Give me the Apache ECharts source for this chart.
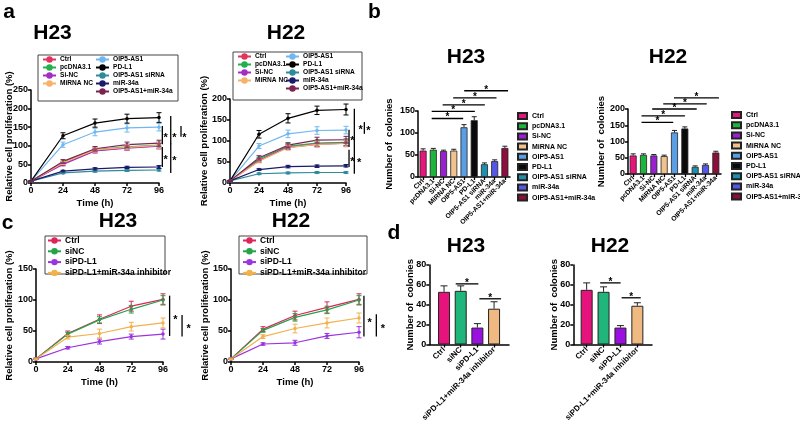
<!DOCTYPE html>
<html><head><meta charset="utf-8">
<script src="https://cdn.jsdelivr.net/npm/echarts@6/dist/echarts.min.js"></script>
<style>html,body{margin:0;padding:0;background:#fff}#c{width:800px;height:424px}</style>
</head><body><div id="c"></div>
<script>
const FONT = '"Liberation Sans", Arial, Helvetica, sans-serif';
// ---------- DATA ----------
const timeH = [0, 24, 48, 72, 96];
const groupsA = ['Ctrl','pcDNA3.1','Si-NC','MiRNA NC','OIP5-AS1','PD-L1','OIP5-AS1 siRNA','miR-34a','OIP5-AS1+miR-34a'];
const lineColorsA = ['#e3345f','#22b14c','#a12fc4','#f6b26b','#71b7ef','#000000','#2e8b9a','#1b1b6b','#7b2452'];
// panel a, H23
const aH23_Ctrl   = [5, 52, 87, 95, 100];
const aH23_pcDNA  = [5, 55, 90, 97, 102];
const aH23_SiNC   = [5, 50, 86, 94, 99];
const aH23_MiRNC  = [5, 54, 89, 96, 101];
const aH23_OIP5   = [5, 103, 137, 148, 150];
const aH23_PDL1   = [5, 127, 161, 173, 176];
const aH23_siRNA  = [5, 27, 32, 34, 35];
const aH23_miR34a = [5, 32, 38, 42, 43];
const aH23_OIPmiR = [5, 58, 92, 103, 107];
const aH23_err = [[1,4,6,7,8],[1,4,6,7,8],[1,4,5,6,7],[1,4,6,7,8],[1,7,10,11,10],[1,8,11,12,13],[1,2,3,3,3],[1,2,3,3,4],[1,5,6,7,8]];
// panel a, H22
const aH22_Ctrl   = [5, 54, 86, 94, 96];
const aH22_pcDNA  = [5, 57, 88, 95, 97];
const aH22_SiNC   = [5, 53, 85, 92, 95];
const aH22_MiRNC  = [5, 52, 84, 92, 94];
const aH22_OIP5   = [5, 88, 117, 125, 126];
const aH22_PDL1   = [5, 116, 154, 173, 175];
const aH22_siRNA  = [5, 22, 24, 25, 25];
const aH22_miR34a = [5, 32, 39, 40, 41];
const aH22_OIPmiR = [5, 60, 90, 102, 103];
const aH22_err = [[1,4,6,7,8],[1,4,6,7,8],[1,4,5,6,7],[1,4,6,7,8],[1,6,9,9,9],[1,9,11,10,13],[1,2,2,2,2],[1,2,3,3,3],[1,5,6,7,8]];
// significance (vertical): [x, yLow, yHigh, starX, starY]
const aH23Sig = [[98.5,104,153,101,128],[104.8,104,180,107.5,128],[112.5,124,153,115,128],[98.5,43,97,101,70],[104.8,27,106,107.5,66]];
const aH22Sig = [[98.5,86,127,101.2,108],[102.9,86,177,108.1,133],[111.2,117,145,114.5,132],[98.5,38,79,101.2,58],[102.9,22,86,106.8,54]];
// panel b
const bCats = ['Ctrl','pcDNA3.1','Si-NC','MiRNA NC','OIP5-AS1','PD-L1','OIP5-AS1 siRNA','miR-34a','OIP5-AS1+miR-34a'];
const barColorsB = ['#e5177b','#1db53c','#9a1fd0','#f2c28e','#5a9ee6','#0a0a0a','#1f8fae','#5757e6','#8c0e3c'];
const bH23Values = [60, 62, 59, 60, 113, 129, 29, 36, 66];
const bH23Err    = [4, 3, 2, 3, 6, 8, 3, 3, 4];
const bH22Values = [57, 59, 57, 55, 128, 140, 22, 28, 66];
const bH22Err    = [5, 3, 3, 3, 6, 5, 3, 3, 4];
// significance (horizontal): [x1, x2, y]
const bH23Sig = [[0.84,3.92,133],[0.84,5.06,149],[1.91,6.04,164],[2.94,7.18,180],[4.02,8.31,196]];
const bH22Sig = [[0.81,3.88,159],[0.81,5.01,179],[1.84,6.15,200],[2.91,7.12,216],[3.95,8.3,234]];
// panel c
const groupsC = ['Ctrl','siNC','siPD-L1','siPD-L1+miR-34a inhibitor'];
const lineColorsC = ['#e0245a','#23a448','#9b33e0','#f3b14e'];
const cH23_Ctrl = [5, 46, 69, 90, 101];
const cH23_siNC = [5, 45, 68, 85, 100];
const cH23_siPD = [5, 23, 33, 41, 45];
const cH23_inh  = [5, 40, 46, 57, 63];
const cH23_err = [[1,4,7,8,9],[1,3,5,6,7],[1,2,4,4,8],[1,3,7,7,8]];
const cH22_Ctrl = [5, 53, 75, 88, 101];
const cH22_siNC = [5, 51, 72, 84, 100];
const cH22_siPD = [5, 29, 31, 42, 48];
const cH22_inh  = [5, 41, 54, 63, 71];
const cH22_err = [[1,4,7,9,9],[1,3,6,6,7],[1,2,4,4,9],[1,3,7,8,8]];
const cH23Sig = [[101,42,107,105.3,73],[110.4,41,76,115.3,58]];
const cH22Sig = [[99.7,41,107,104,68],[109,41,77,114,58]];
// panel d
const dCats = ['Ctrl','siNC','siPD-L1','siPD-L1+miR-34a inhibitor'];
const dColors = ['#e5137b','#1fb57b','#9a10e0','#f0b982'];
const dH23Values = [53, 54, 17, 36];
const dH23Err    = [6, 5, 4, 7];
const dH22Values = [55, 53, 17, 39];
const dH22Err    = [7, 5, 2, 3];
const dH23Sig = [[0.7,2.06,61],[2.12,3.42,46]];
const dH22Sig = [[0.8,2.01,62],[2.07,3.2,47]];

// ---------- BUILD ----------
const grid = [], xAxis = [], yAxis = [], series = [], legend = [], graphic = [];
const axLine = {show:true, onZero:false, lineStyle:{color:'#000', width:1.5}};
const axTick = {show:true, length:3, inside:false, lineStyle:{color:'#000', width:1.5}};
const lbl = (fs) => ({color:'#000', fontWeight:'bold', fontSize:fs, fontFamily:FONT, margin:3});
const fmt = n => n.split('@')[0];
function addGrid(g){ grid.push(Object.assign({containLabel:false}, g)); return grid.length-1; }
function yAx(gi, max, interval, name, nameGap, offset){
  yAxis.push({gridIndex:gi, type:'value', min:0, max, interval, offset:offset||0, axisLine:axLine, axisTick:axTick,
    axisLabel:lbl(9), splitLine:{show:false}, name, nameLocation:'middle', nameGap, nameMoveOverlap:false,
    nameTextStyle:{color:'#000', fontWeight:'bold', fontSize:9.5, fontFamily:FONT}});
  return yAxis.length-1;
}
function errSeries(xi, yi, data, color, upperOnly, cap){
  return {type:'custom', xAxisIndex:xi, yAxisIndex:yi, silent:true, z:5, data,
    renderItem(params, api){
      const x=api.value(0), y=api.value(1), e=api.value(2);
      const lo = api.coord([x, upperOnly ? y : y-e]), hi = api.coord([x, y+e]);
      const st = {stroke:color, lineWidth:1};
      const ch = [{type:'line', shape:{x1:lo[0],y1:lo[1],x2:hi[0],y2:hi[1]}, style:st},
                  {type:'line', shape:{x1:hi[0]-cap,y1:hi[1],x2:hi[0]+cap,y2:hi[1]}, style:st}];
      if(!upperOnly) ch.push({type:'line', shape:{x1:lo[0]-cap,y1:lo[1],x2:lo[0]+cap,y2:lo[1]}, style:st});
      return {type:'group', children:ch};
    }};
}
function vSigSeries(xi, yi, data){
  return {type:'custom', xAxisIndex:xi, yAxisIndex:yi, silent:true, z:6, data,
    renderItem(params, api){
      const a = api.coord([api.value(0), api.value(1)]), b = api.coord([api.value(0), api.value(2)]);
      const s = api.coord([api.value(3), api.value(4)]);
      return {type:'group', children:[
        {type:'line', shape:{x1:a[0],y1:a[1],x2:b[0],y2:b[1]}, style:{stroke:'#000', lineWidth:1.3}},
        {type:'text', x:s[0], y:s[1]+3, style:{text:'*', font:'bold 11px '+FONT, align:'center', verticalAlign:'middle', fill:'#000'}}
      ]};
    }};
}
function hSigSeries(xi, yi, data){
  return {type:'custom', xAxisIndex:xi, yAxisIndex:yi, silent:true, z:6, data,
    renderItem(params, api){
      const a = api.coord([api.value(0), api.value(2)]), b = api.coord([api.value(1), api.value(2)]);
      return {type:'group', children:[
        {type:'line', shape:{x1:a[0],y1:a[1],x2:b[0],y2:b[1]}, style:{stroke:'#000', lineWidth:1.3}},
        {type:'text', x:(a[0]+b[0])/2, y:a[1]-1, style:{text:'*', font:'bold 10px '+FONT, align:'center', verticalAlign:'middle', fill:'#000'}}
      ]};
    }};
}
function linePanel(tag, g, ymax, yint, names, colors, valueLists, errLists, sig, cfg){
  const gi = addGrid(g);
  xAxis.push({gridIndex:gi, type:'value', min:0, max:96, interval:24, axisLine:axLine, axisTick:axTick,
    axisLabel:lbl(9), splitLine:{show:false}, name:'Time (h)', nameLocation:'middle', nameGap:15,
    nameTextStyle:{color:'#000', fontWeight:'bold', fontSize:9.5, fontFamily:FONT}});
  const xi = xAxis.length-1;
  const yi = yAx(gi, ymax, yint, 'Relative cell proliferation (%)', cfg.yGap);
  const snames = names.map(n => n + '@' + tag);
  valueLists.forEach((vals, k) => {
    series.push({type:'line', name:snames[k], xAxisIndex:xi, yAxisIndex:yi,
      data: timeH.map((t,i)=>[t, vals[i]]), symbol:'circle', symbolSize:3.5,
      lineStyle:{color:colors[k], width:1.2}, itemStyle:{color:colors[k]}, z:3});
    series.push(errSeries(xi, yi, timeH.map((t,i)=>[t, vals[i], errLists[k][i]]), colors[k], false, 2.5));
  });
  series.push(vSigSeries(xi, yi, sig));
  cfg.cols.forEach(c => {
    legend.push({orient:'vertical', left:c.left, top:c.top, padding:0, itemGap:cfg.gap,
      itemWidth:13, itemHeight:8, selectedMode:false, formatter:fmt,
      textStyle:{fontSize:cfg.fs, fontWeight:'bold', fontFamily:FONT, color:'#000', padding:[0,0,0,-1]},
      data: c.idx.map(i => snames[i])});
  });
  graphic.push({type:'rect', shape:cfg.box, style:{fill:'none', stroke:'#444', lineWidth:1}, silent:true});
}
function barPanelB(tag, g, ymax, yint, values, errs, sig, legendPos, yGap){
  const gi = addGrid(g);
  xAxis.push({gridIndex:gi, type:'category', data:bCats, axisLine:axLine,
    axisTick:{show:true, length:3, alignWithLabel:true, lineStyle:{color:'#000', width:1.3}},
    axisLabel:Object.assign(lbl(6.8), {rotate:45, interval:0, margin:3})});
  const xi = xAxis.length-1;
  xAxis.push({gridIndex:gi, type:'value', min:-0.5, max:8.5, show:false});
  const xh = xAxis.length-1;
  const yi = yAx(gi, ymax, yint, 'Number of  colonies', yGap);
  const snames = bCats.map(n => n + '@' + tag);
  bCats.forEach((c,k) => {
    series.push({type:'bar', name:snames[k], xAxisIndex:xi, yAxisIndex:yi, barWidth:7, barGap:'-100%',
      data: values.map((v,i)=> i===k ? v : '-'),
      itemStyle:{color:barColorsB[k], borderColor:'#222', borderWidth:0.8}});
  });
  series.push(errSeries(xi, yi, values.map((v,i)=>[i, v, errs[i]]), '#222', true, 2.5));
  series.push(hSigSeries(xh, yi, sig));
  legend.push({orient:'vertical', left:legendPos.left, top:legendPos.top, padding:0, itemGap:2.2,
    itemWidth:9, itemHeight:6, icon:'rect', selectedMode:false, formatter:fmt,
    textStyle:{fontSize:7, fontWeight:'bold', fontFamily:FONT, color:'#000', lineHeight:7},
    data:snames});
}
function barPanelD(g, axisLeft, axisRight, values, errs, sig, yGap){
  const gl = addGrid({left:axisLeft, top:g.top, width:axisRight-axisLeft, height:g.height});
  xAxis.push({gridIndex:gl, type:'value', min:0, max:1, axisLine:axLine, axisTick:{show:false}, axisLabel:{show:false}, splitLine:{show:false}});
  yAxis.push({gridIndex:gl, type:'value', min:0, max:1, show:false});
  const gi = addGrid(g);
  xAxis.push({gridIndex:gi, type:'category', data:dCats, axisLine:{show:false},
    axisTick:{show:true, length:3, alignWithLabel:true, lineStyle:{color:'#000', width:1.3}},
    axisLabel:Object.assign(lbl(8), {rotate:45, interval:0, margin:4})});
  const xi = xAxis.length-1;
  xAxis.push({gridIndex:gi, type:'value', min:-0.5, max:3.5, show:false});
  const xh = xAxis.length-1;
  const yi = yAx(gi, 80, 20, 'Number of  colonies', yGap, g.left-axisLeft);
  series.push({type:'bar', xAxisIndex:xi, yAxisIndex:yi, barWidth:12,
    data: values.map((v,i)=>({value:v, itemStyle:{color:dColors[i]}})),
    itemStyle:{borderColor:'#222', borderWidth:1}});
  series.push(errSeries(xi, yi, values.map((v,i)=>[i, v, errs[i]]), '#222', true, 3.5));
  series.push(hSigSeries(xh, yi, sig));
}
// a
linePanel('aH23', {left:31, top:90, width:128, height:93}, 250, 50, groupsA, lineColorsA,
  [aH23_Ctrl,aH23_pcDNA,aH23_SiNC,aH23_MiRNC,aH23_OIP5,aH23_PDL1,aH23_siRNA,aH23_miR34a,aH23_OIPmiR], aH23_err, aH23Sig,
  {cols:[{left:42, top:56, idx:[0,1,2,3]},{left:95, top:56, idx:[4,5,6,7,8]}], gap:1, fs:6.6, yGap:17,
   box:{x:38, y:55, width:140, height:46}});
linePanel('aH22', {left:230, top:99, width:116, height:84}, 200, 50, groupsA, lineColorsA,
  [aH22_Ctrl,aH22_pcDNA,aH22_SiNC,aH22_MiRNC,aH22_OIP5,aH22_PDL1,aH22_siRNA,aH22_miR34a,aH22_OIPmiR], aH22_err, aH22Sig,
  {cols:[{left:237, top:53, idx:[0,1,2,3]},{left:285, top:53, idx:[4,5,6,7,8]}], gap:1, fs:6.6, yGap:21,
   box:{x:233, y:52, width:129, height:48}});
// b
barPanelB('bH23', {left:418, top:111, width:92, height:66}, 150, 50, bH23Values, bH23Err, bH23Sig, {left:517, top:112}, 24);
barPanelB('bH22', {left:628, top:109, width:93, height:65}, 200, 50, bH22Values, bH22Err, bH22Sig, {left:731, top:111}, 22);
// c
linePanel('cH23', {left:36, top:269, width:127, height:93}, 150, 50, groupsC, lineColorsC,
  [cH23_Ctrl,cH23_siNC,cH23_siPD,cH23_inh], cH23_err, cH23Sig,
  {cols:[{left:47, top:236, idx:[0,1,2,3]}], gap:1.8, fs:8.5, yGap:22,
   box:{x:45, y:236, width:120, height:38}});
linePanel('cH22', {left:231, top:269, width:128, height:93}, 150, 50, groupsC, lineColorsC,
  [cH22_Ctrl,cH22_siNC,cH22_siPD,cH22_inh], cH22_err, cH22Sig,
  {cols:[{left:242, top:236, idx:[0,1,2,3]}], gap:1.8, fs:8.5, yGap:21,
   box:{x:239, y:236, width:128, height:38}});
// d
barPanelD({left:435.7, top:265, width:66.7, height:80}, 429.3, 509, dH23Values, dH23Err, dH23Sig, 14);
barPanelD({left:578.2, top:265, width:67.6, height:80}, 573.3, 652, dH22Values, dH22Err, dH22Sig, 14);
// titles & panel letters
const titles = [['H23',52.5,33],['H22',286,33],['H23',466,57],['H22',668,57],['H23',118,221],['H22',291,221],['H23',466,246],['H22',610,246]];
titles.forEach(t => graphic.push({type:'text', x:t[1], y:t[2], silent:true,
  style:{text:t[0], font:'bold 21px '+FONT, align:'center', verticalAlign:'middle', fill:'#000'}}));
const letters = [['a',9,12],['b',374.5,12],['c',7.5,223],['d',394,233]];
letters.forEach(t => graphic.push({type:'text', x:t[1], y:t[2], silent:true,
  style:{text:t[0], font:'bold 21px '+FONT, align:'center', verticalAlign:'middle', fill:'#000'}}));
const chart = echarts.init(document.getElementById('c'), null, {renderer:'canvas'});
chart.setOption({animation:false, backgroundColor:'#fff', textStyle:{fontFamily:FONT},
  grid, xAxis, yAxis, series, legend, graphic});
</script></body></html>
